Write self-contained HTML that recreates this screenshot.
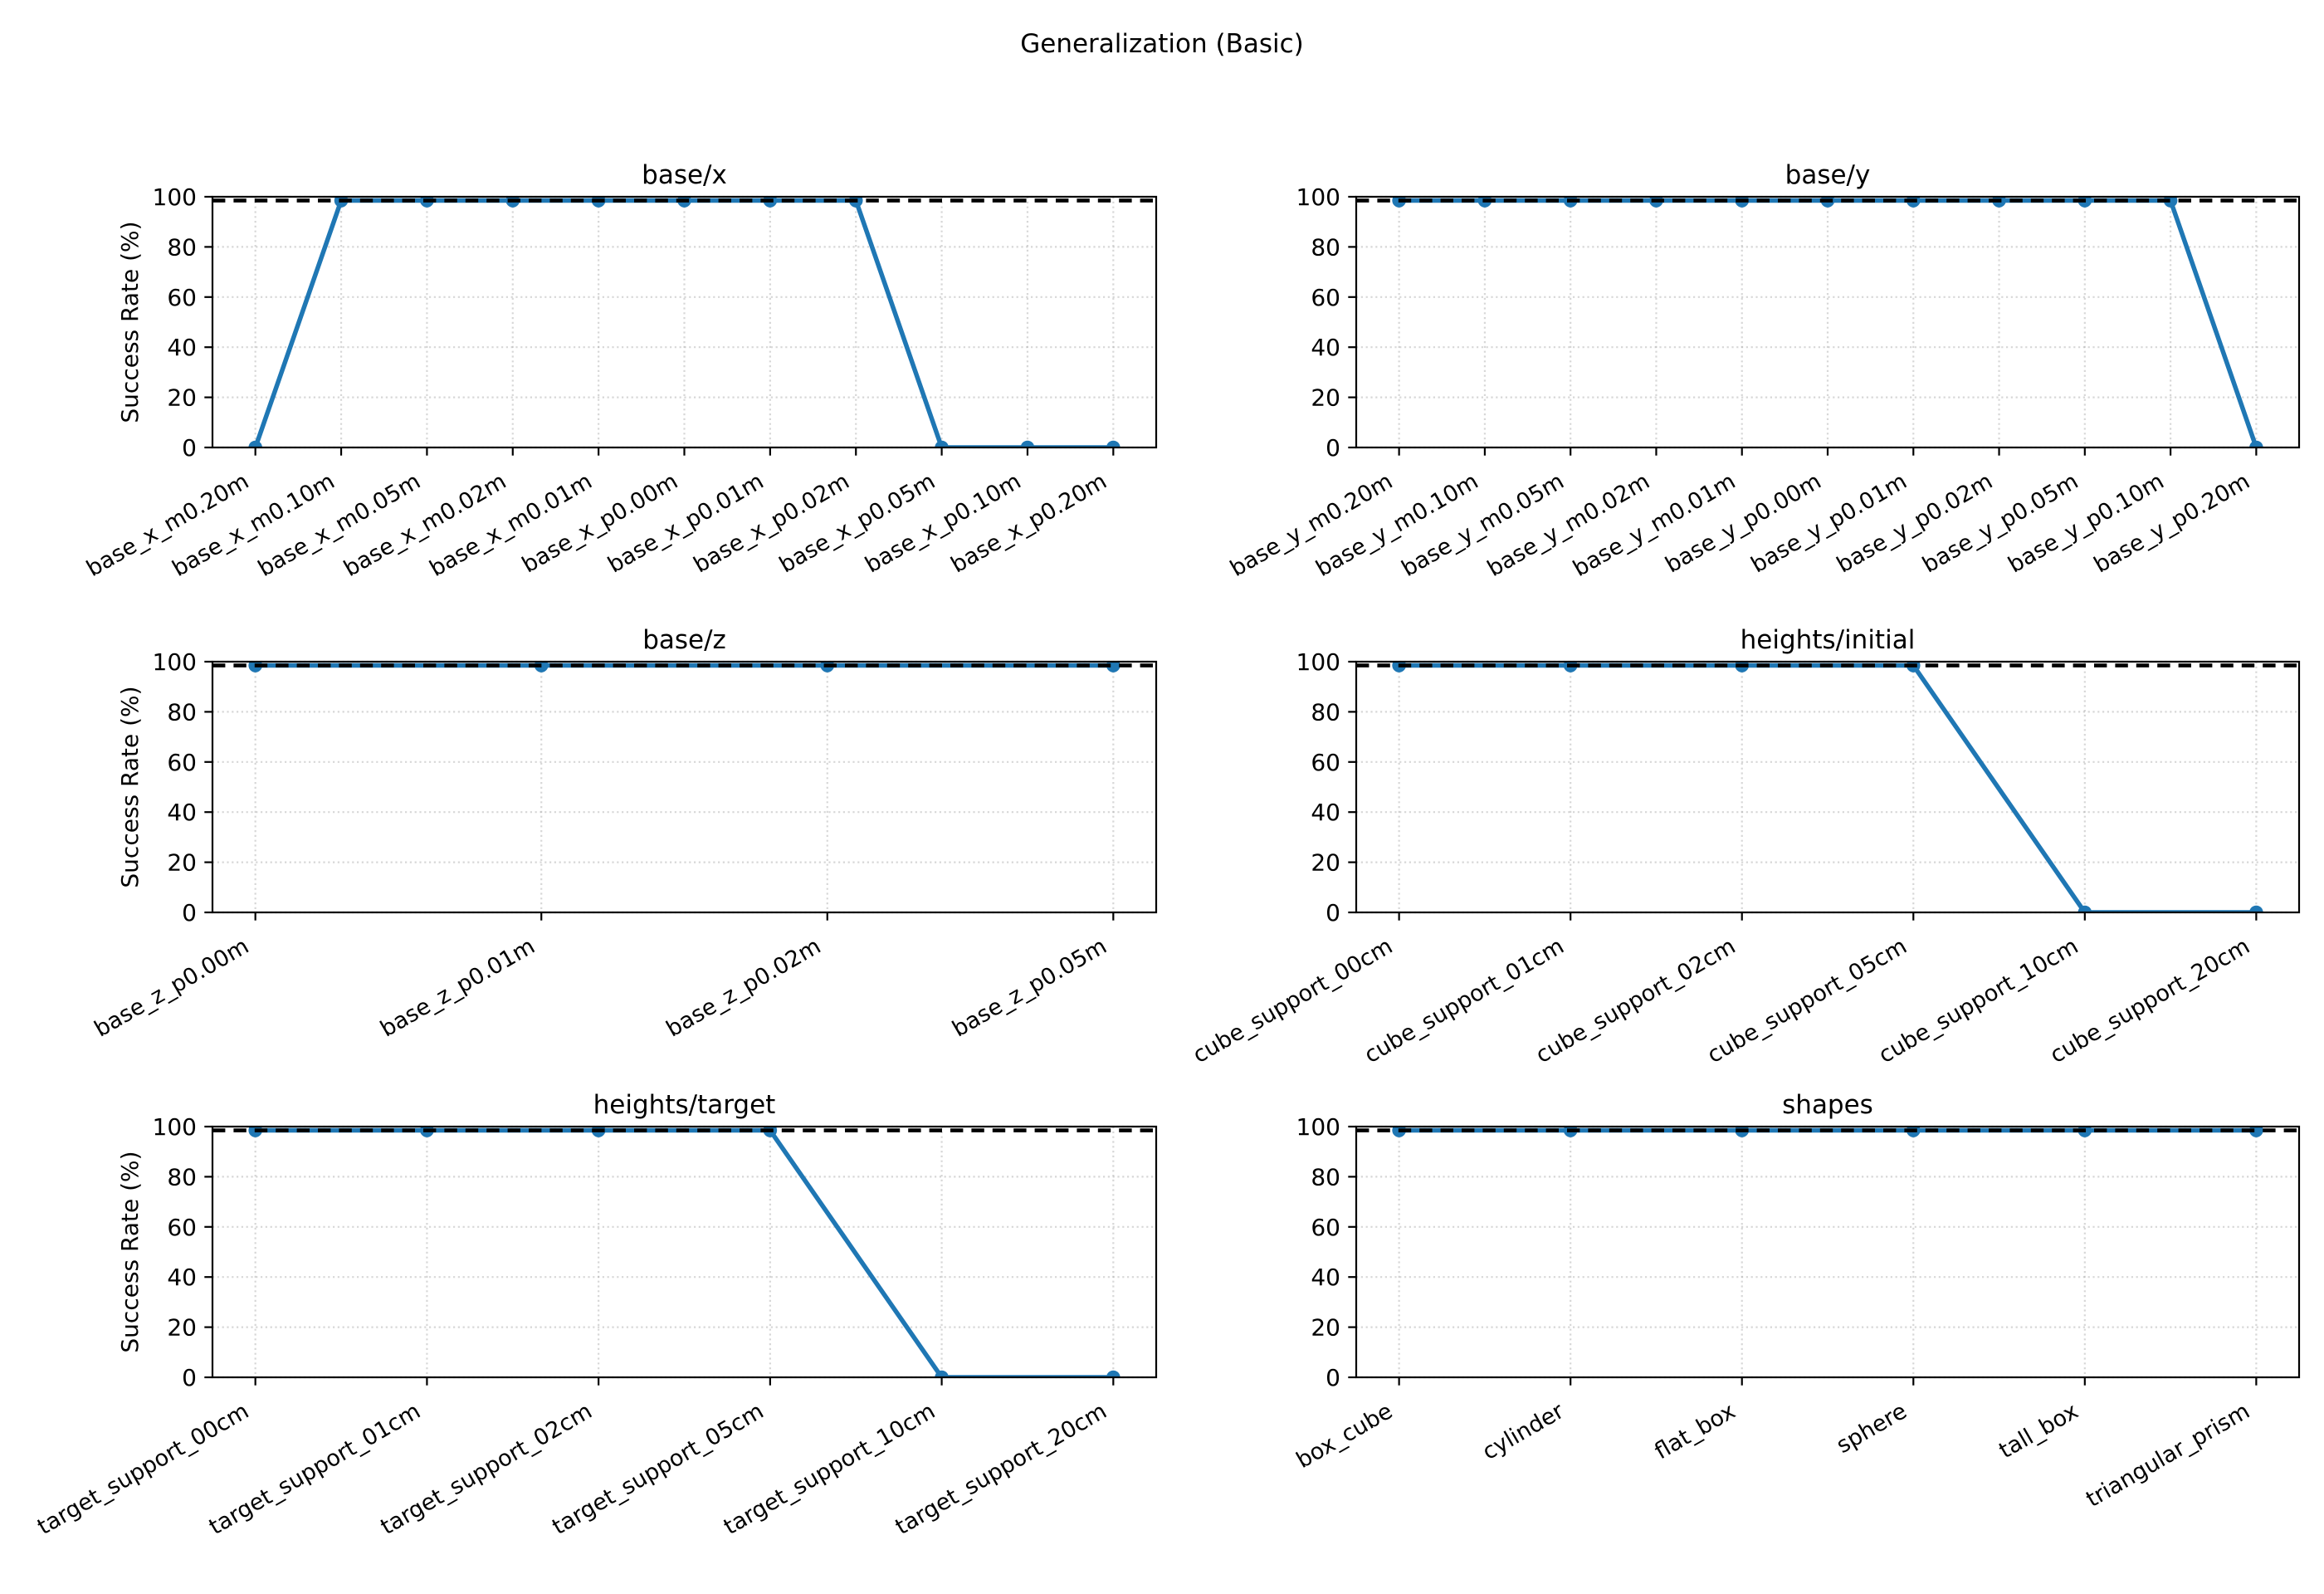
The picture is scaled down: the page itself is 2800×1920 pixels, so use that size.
<!DOCTYPE html>
<html><head><meta charset="utf-8"><style>
html,body{margin:0;padding:0;background:#fff}
svg{display:block}
text{font-family:"DejaVu Sans","Liberation Sans",sans-serif;fill:#000}
</style></head><body>
<svg id="s" width="2800" height="1920" xmlns="http://www.w3.org/2000/svg">
<rect width="2800" height="1920" fill="#fff"/>
<text x="1400" y="63" font-size="31" text-anchor="middle">Generalization (Basic)</text>
</svg>
<script>
const NS="http://www.w3.org/2000/svg";
const svg=document.getElementById('s');
function el(t,a,txt,par){const e=document.createElementNS(NS,t);for(const k in a)e.setAttribute(k,a[k]);if(txt!==undefined&&txt!==null)e.textContent=txt;(par||svg).appendChild(e);return e;}
const H=98.5;
const panels=[
 {x0:256,x1:1393,y0:237,title:"base/x",ylab:true,
  labels:["base_x_m0.20m","base_x_m0.10m","base_x_m0.05m","base_x_m0.02m","base_x_m0.01m","base_x_p0.00m","base_x_p0.01m","base_x_p0.02m","base_x_p0.05m","base_x_p0.10m","base_x_p0.20m"],
  vals:[0,H,H,H,H,H,H,H,0,0,0]},
 {x0:1634,x1:2770,y0:237,title:"base/y",
  labels:["base_y_m0.20m","base_y_m0.10m","base_y_m0.05m","base_y_m0.02m","base_y_m0.01m","base_y_p0.00m","base_y_p0.01m","base_y_p0.02m","base_y_p0.05m","base_y_p0.10m","base_y_p0.20m"],
  vals:[H,H,H,H,H,H,H,H,H,H,0]},
 {x0:256,x1:1393,y0:797,title:"base/z",ylab:true,
  labels:["base_z_p0.00m","base_z_p0.01m","base_z_p0.02m","base_z_p0.05m"],vals:[H,H,H,H]},
 {x0:1634,x1:2770,y0:797,title:"heights/initial",
  labels:["cube_support_00cm","cube_support_01cm","cube_support_02cm","cube_support_05cm","cube_support_10cm","cube_support_20cm"],vals:[H,H,H,H,0,0]},
 {x0:256,x1:1393,y0:1357,title:"heights/target",ylab:true,
  labels:["target_support_00cm","target_support_01cm","target_support_02cm","target_support_05cm","target_support_10cm","target_support_20cm"],vals:[H,H,H,H,0,0]},
 {x0:1634,x1:2770,y0:1357,title:"shapes",
  labels:["box_cube","cylinder","flat_box","sphere","tall_box","triangular_prism"],vals:[H,H,H,H,H,H]}
];
const AH=302;
const defs=el('defs',{});
panels.forEach((p,k)=>{
 const n=p.labels.length, w=p.x1-p.x0, step=w/((n-1)*1.1), x=i=>p.x0+step*(n-1)*0.05+i*step;
 const y=v=>p.y0+AH-v/100*AH, yb=p.y0+AH;
 const cp=el('clipPath',{id:'c'+k},null,defs);el('rect',{x:p.x0,y:p.y0,width:w,height:AH},null,cp);
 for(let i=0;i<n;i++)el('line',{x1:x(i),x2:x(i),y1:p.y0,y2:yb,stroke:'#b0b0b0','stroke-opacity':0.5,'stroke-width':2.2,'stroke-dasharray':'2.2,3.6'});
 for(let v=0;v<=100;v+=20)el('line',{x1:p.x0,x2:p.x1,y1:y(v),y2:y(v),stroke:'#b0b0b0','stroke-opacity':0.5,'stroke-width':2.2,'stroke-dasharray':'2.2,3.6'});
 const g=el('g',{'clip-path':`url(#c${k})`});
 el('polyline',{points:p.vals.map((v,i)=>x(i)+','+y(v)).join(' '),fill:'none',stroke:'#1f77b4','stroke-width':5.5,'stroke-linejoin':'round'},null,g);
 p.vals.forEach((v,i)=>el('circle',{cx:x(i),cy:y(v),r:8.3,fill:'#1f77b4'},null,g));
 el('line',{x1:p.x0,x2:p.x1,y1:y(H),y2:y(H),stroke:'#000','stroke-width':4.6,'stroke-dasharray':'15.4,10'});
 el('rect',{x:p.x0,y:p.y0,width:w,height:AH,fill:'none',stroke:'#000','stroke-width':2.2});
 for(let v=0;v<=100;v+=20){el('line',{x1:p.x0-9.7,x2:p.x0,y1:y(v),y2:y(v),stroke:'#000','stroke-width':2.2});
  el('text',{x:p.x0-19,y:y(v)+10,'font-size':28,'text-anchor':'end'},String(v));}
 for(let i=0;i<n;i++){el('line',{x1:x(i),x2:x(i),y1:yb,y2:yb+9.7,stroke:'#000','stroke-width':2.2});
  const tx=x(i)-6, ty=yb+46;
  el('text',{x:tx,y:ty,'font-size':27,'text-anchor':'end',transform:`rotate(-30 ${tx} ${ty})`},p.labels[i]);}
 el('text',{x:(p.x0+p.x1)/2,y:p.y0-16,'font-size':31,'text-anchor':'middle'},p.title);
 if(p.ylab){const cx=166,cy=p.y0+AH/2;el('text',{x:cx,y:cy,'font-size':28,'text-anchor':'middle',transform:`rotate(-90 ${cx} ${cy})`},'Success Rate (%)');}
});
</script>
</body></html>
